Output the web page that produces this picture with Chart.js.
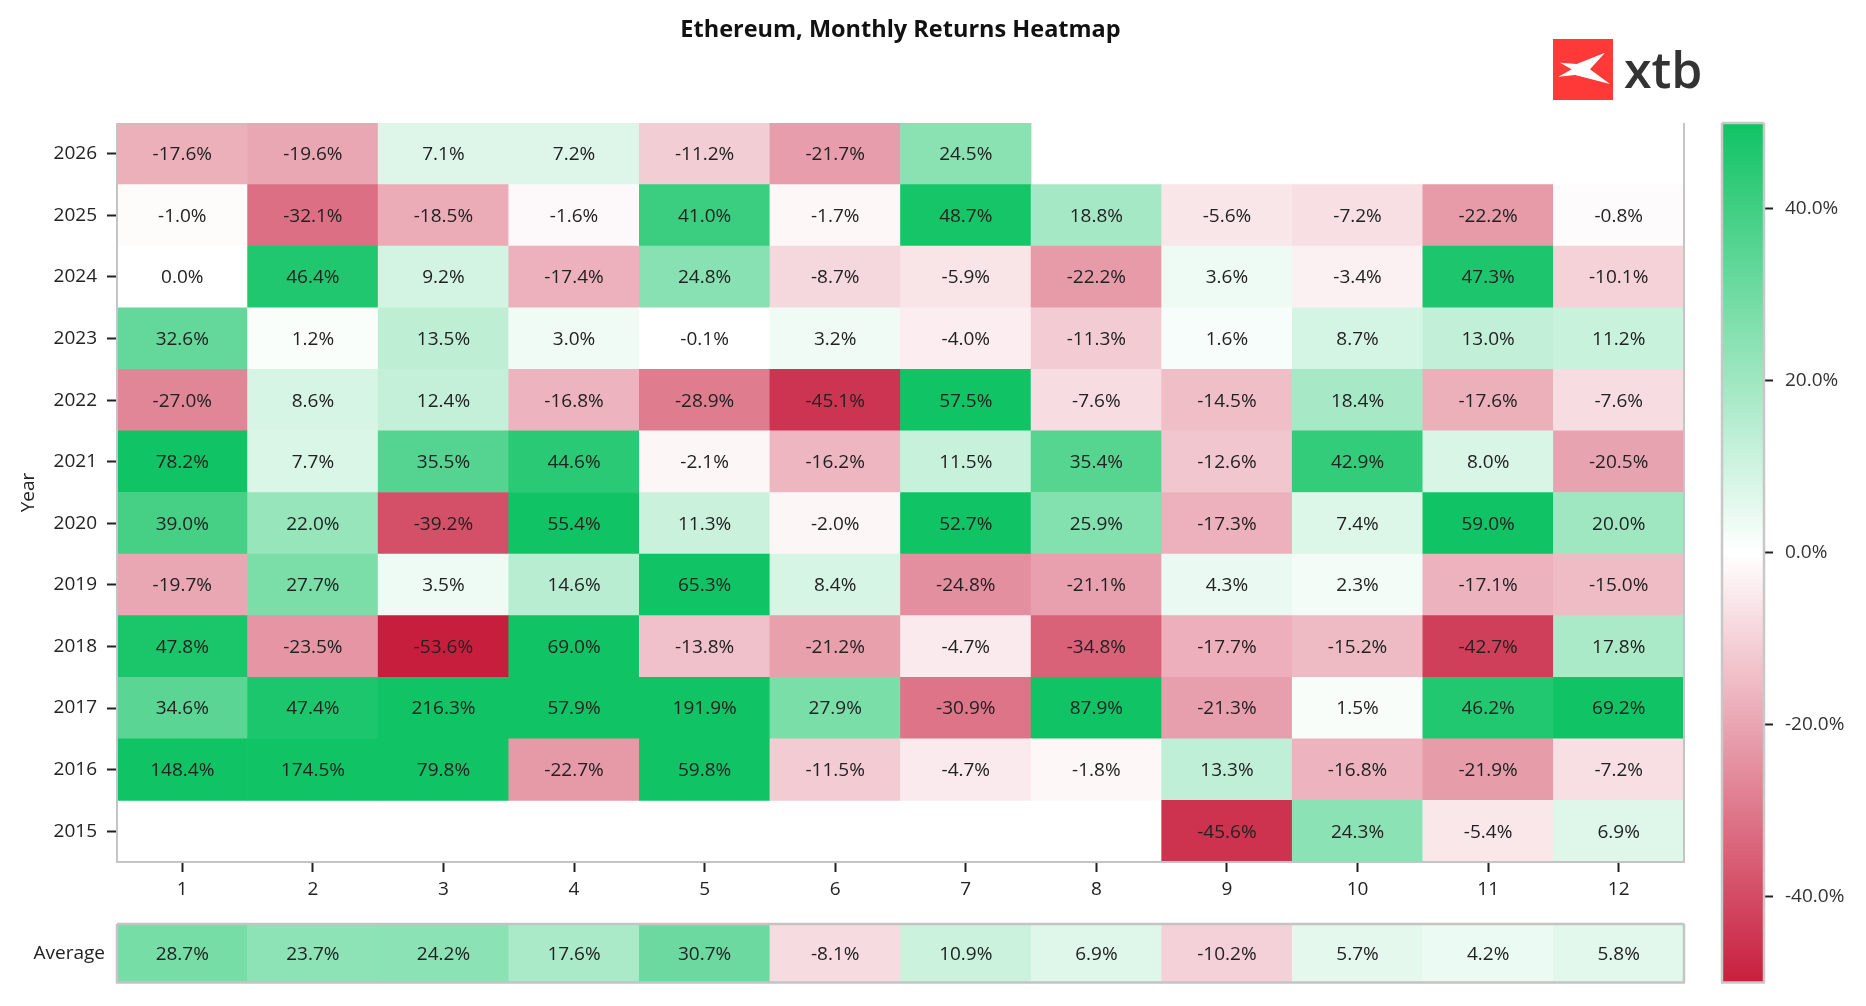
<!DOCTYPE html>
<html>
<head>
<meta charset="utf-8">
<script src="https://cdn.jsdelivr.net/npm/chart.js@4.4.1/dist/chart.umd.min.js"></script>
<style>
html, body { margin: 0; padding: 0; background: #fff; }
.layer { position: absolute; left: 0; top: 0; width: 1866px; height: 1006px; }
</style>
</head>
<body>
<div class="layer"><canvas id="heat"></canvas></div>
<div class="layer"><canvas id="avg"></canvas></div>
<div class="layer"><canvas id="bar"></canvas></div>
<script>
// data (monthly returns in %)
var months = ['1', '2', '3', '4', '5', '6', '7', '8', '9', '10', '11', '12'];
var years = [2015, 2016, 2017, 2018, 2019, 2020, 2021, 2022, 2023, 2024, 2025, 2026];

var r2015 = [null, null, null, null, null, null, null, null, -45.6, 24.3, -5.4, 6.9];
var r2016 = [148.4, 174.5, 79.8, -22.7, 59.8, -11.5, -4.7, -1.8, 13.3, -16.8, -21.9, -7.2];
var r2017 = [34.6, 47.4, 216.3, 57.9, 191.9, 27.9, -30.9, 87.9, -21.3, 1.5, 46.2, 69.2];
var r2018 = [47.8, -23.5, -53.6, 69.0, -13.8, -21.2, -4.7, -34.8, -17.7, -15.2, -42.7, 17.8];
var r2019 = [-19.7, 27.7, 3.5, 14.6, 65.3, 8.4, -24.8, -21.1, 4.3, 2.3, -17.1, -15.0];
var r2020 = [39.0, 22.0, -39.2, 55.4, 11.3, -2.0, 52.7, 25.9, -17.3, 7.4, 59.0, 20.0];
var r2021 = [78.2, 7.7, 35.5, 44.6, -2.1, -16.2, 11.5, 35.4, -12.6, 42.9, 8.0, -20.5];
var r2022 = [-27.0, 8.6, 12.4, -16.8, -28.9, -45.1, 57.5, -7.6, -14.5, 18.4, -17.6, -7.6];
var r2023 = [32.6, 1.2, 13.5, 3.0, -0.1, 3.2, -4.0, -11.3, 1.6, 8.7, 13.0, 11.2];
var r2024 = [0.0, 46.4, 9.2, -17.4, 24.8, -8.7, -5.9, -22.2, 3.6, -3.4, 47.3, -10.1];
var r2025 = [-1.0, -32.1, -18.5, -1.6, 41.0, -1.7, 48.7, 18.8, -5.6, -7.2, -22.2, -0.8];
var r2026 = [-17.6, -19.6, 7.1, 7.2, -11.2, -21.7, 24.5, null, null, null, null, null];

var avgReturns = [28.7, 23.7, 24.2, 17.6, 30.7, -8.1, 10.9, 6.9, -10.2, 5.7, 4.2, 5.8];
var barTicks = [-40, -20, 0, 20, 40];

var rows = [r2015, r2016, r2017, r2018, r2019, r2020, r2021, r2022, r2023, r2024, r2025, r2026];

var TITLE = 'Ethereum, Monthly Returns Heatmap';

// colour scale: red - white - green, clipped at +-50%
var RED = [200, 30, 62];
var GREEN = [16, 195, 100];
var LIMIT = 50;

function cellColor(v) {
    if (v == null) return 'rgba(0,0,0,0)';
    var t = Math.max(-1, Math.min(1, v / LIMIT));
    var end = t < 0 ? RED : GREEN;
    var a = Math.abs(t);
    var c = end.map(function (e) { return Math.round(255 + (e - 255) * a); });
    return 'rgb(' + c.join(',') + ')';
}

function pct(v) { return v.toFixed(1) + '%'; }

Chart.defaults.font.family = "'Open Sans', 'Noto Sans', sans-serif";
Chart.defaults.color = '#222';

var tickFont = { size: 19, weight: '400' };

var cellLabels = {
    id: 'cellLabels',
    afterDatasetsDraw: function (chart) {
        var ctx = chart.ctx;
        ctx.save();
        ctx.font = '400 19px "Open Sans", "Noto Sans", sans-serif';
        ctx.fillStyle = '#222';
        ctx.textAlign = 'center';
        ctx.textBaseline = 'middle';
        chart.data.datasets.forEach(function (ds, i) {
            chart.getDatasetMeta(i).data.forEach(function (bar, j) {
                var v = ds.values[j];
                if (v == null) return;
                var p = bar.getCenterPoint();
                ctx.fillText(pct(v), p.x, p.y + 1);
            });
        });
        ctx.restore();
    }
};

var frame = {
    id: 'frame',
    afterDatasetsDraw: function (chart, args, opts) {
        var a = chart.chartArea;
        var ctx = chart.ctx;
        ctx.save();
        ctx.strokeStyle = opts.color || '#c4c4c4';
        ctx.lineWidth = opts.width || 2;
        ctx.beginPath();
        (opts.sides || []).forEach(function (s) {
            if (s === 'left') { ctx.moveTo(a.left, a.top); ctx.lineTo(a.left, a.bottom); }
            if (s === 'right') { ctx.moveTo(a.right, a.top); ctx.lineTo(a.right, a.bottom); }
            if (s === 'top') { ctx.moveTo(a.left, a.top); ctx.lineTo(a.right, a.top); }
            if (s === 'bottom') { ctx.moveTo(a.left - 1, a.bottom); ctx.lineTo(a.right + 1, a.bottom); }
        });
        ctx.stroke();
        ctx.restore();
    }
};

// title centred over the plot area, plus the xtb logo
var header = {
    id: 'header',
    afterDraw: function (chart) {
        var ctx = chart.ctx;
        var a = chart.chartArea;
        ctx.save();
        ctx.fillStyle = '#111';
        ctx.font = 'bold 23.5px "Open Sans", sans-serif';
        ctx.textAlign = 'center';
        ctx.textBaseline = 'middle';
        ctx.fillText(TITLE, (a.left + a.right) / 2, 30);

        ctx.fillStyle = '#ff3838';
        ctx.fillRect(1553, 39, 60, 61);
        ctx.fillStyle = '#fff';
        ctx.beginPath();
        ctx.moveTo(1560, 62.7);
        ctx.lineTo(1576.7, 64);
        ctx.lineTo(1605, 52.7);
        ctx.lineTo(1590, 69.3);
        ctx.lineTo(1610, 84);
        ctx.lineTo(1575, 75);
        ctx.lineTo(1558.3, 76.7);
        ctx.lineTo(1571.7, 69.3);
        ctx.closePath();
        ctx.fill();
        ctx.fillStyle = '#333';
        ctx.font = '600 50px "Open Sans", sans-serif';
        ctx.textAlign = 'left';
        ctx.textBaseline = 'alphabetic';
        ctx.fillText('xtb', 1624, 88);
        ctx.restore();
    }
};

// main heatmap: one floating-bar dataset per year
var heatSets = rows.map(function (vals, i) {
    return {
        label: String(years[i]),
        values: vals,
        data: vals.map(function (v) { return v == null ? null : [i, i + 1]; }),
        backgroundColor: function (c) { return cellColor(c.dataset.values[c.dataIndex]); },
        borderWidth: 0,
        grouped: false,
        barPercentage: 1,
        categoryPercentage: 1
    };
});

new Chart(document.getElementById('heat'), {
    type: 'bar',
    data: { labels: months, datasets: heatSets },
    options: {
        responsive: true,
        maintainAspectRatio: false,
        animation: false,
        layout: { padding: { left: 0, right: 182, top: 123, bottom: 104 } },
        plugins: {
            legend: { display: false },
            tooltip: { enabled: false },
            frame: { sides: ['left', 'bottom', 'right'], color: '#c4c4c4', width: 2 }
        },
        scales: {
            x: {
                grid: { display: true, drawOnChartArea: false, offset: false, tickLength: 10, tickColor: '#222', tickWidth: 2 },
                border: { display: false },
                ticks: { font: tickFont, color: '#222', padding: 6 },
                afterFit: function (s) { s.height = 40; }
            },
            y: {
                type: 'linear',
                min: 0,
                max: 12,
                grid: { display: true, drawOnChartArea: false, tickLength: 10, tickColor: '#222', tickWidth: 2 },
                border: { display: false },
                afterBuildTicks: function (s) {
                    s.ticks = years.map(function (y, i) { return { value: i + 0.5 }; });
                },
                ticks: {
                    font: tickFont,
                    color: '#222',
                    padding: 10,
                    callback: function (v) { return String(years[Math.floor(v)]); }
                },
                title: { display: true, text: 'Year', font: tickFont, color: '#222', padding: { top: 17, bottom: 0 } },
                afterFit: function (s) { s.width = 117; }
            }
        }
    },
    plugins: [cellLabels, frame, header]
});

// average row
new Chart(document.getElementById('avg'), {
    type: 'bar',
    data: {
        labels: months,
        datasets: [{
            values: avgReturns,
            data: avgReturns.map(function () { return [0, 1]; }),
            backgroundColor: function (c) { return cellColor(c.dataset.values[c.dataIndex]); },
            borderWidth: 0,
            barPercentage: 1,
            categoryPercentage: 1
        }]
    },
    options: {
        responsive: true,
        maintainAspectRatio: false,
        animation: false,
        layout: { padding: { left: 0, right: 182, top: 924, bottom: 20 } },
        plugins: {
            legend: { display: false },
            tooltip: { enabled: false },
            frame: { sides: ['left', 'right', 'top', 'bottom'], color: '#c4c4c4', width: 2.5 }
        },
        scales: {
            x: { display: false },
            y: {
                type: 'linear',
                min: 0,
                max: 1,
                grid: { display: false, drawTicks: false },
                border: { display: false },
                afterBuildTicks: function (s) { s.ticks = [{ value: 0.5 }]; },
                ticks: { font: tickFont, color: '#222', padding: 12, callback: function () { return 'Average'; } },
                afterFit: function (s) { s.width = 117; }
            }
        }
    },
    plugins: [cellLabels, frame]
});

// colour bar
new Chart(document.getElementById('bar'), {
    type: 'bar',
    data: {
        labels: [''],
        datasets: [{
            data: [[-LIMIT, LIMIT]],
            backgroundColor: function (c) {
                var area = c.chart.chartArea;
                if (!area) return '#fff';
                var g = c.chart.ctx.createLinearGradient(0, area.bottom, 0, area.top);
                for (var s = 0; s <= 20; s++) {
                    g.addColorStop(s / 20, cellColor(-LIMIT + s * LIMIT / 10));
                }
                return g;
            },
            borderWidth: 0,
            barPercentage: 1,
            categoryPercentage: 1
        }]
    },
    options: {
        responsive: true,
        maintainAspectRatio: false,
        animation: false,
        layout: { padding: { left: 1722, right: 0, top: 123, bottom: 21 } },
        plugins: {
            legend: { display: false },
            tooltip: { enabled: false },
            frame: { sides: ['left', 'right', 'top', 'bottom'], color: '#c8c8c8', width: 2.5 }
        },
        scales: {
            x: { display: false },
            y: {
                type: 'linear',
                position: 'right',
                min: -LIMIT,
                max: LIMIT,
                grid: { display: true, drawOnChartArea: false, tickLength: 9, tickColor: '#222', tickWidth: 2 },
                border: { display: false },
                afterBuildTicks: function (s) {
                    s.ticks = barTicks.map(function (v) { return { value: v }; });
                },
                ticks: { font: tickFont, color: '#333', padding: 12, callback: function (v) { return pct(v); } },
                afterFit: function (s) { s.width = 102; }
            }
        }
    },
    plugins: [frame]
});
</script>
</body>
</html>
